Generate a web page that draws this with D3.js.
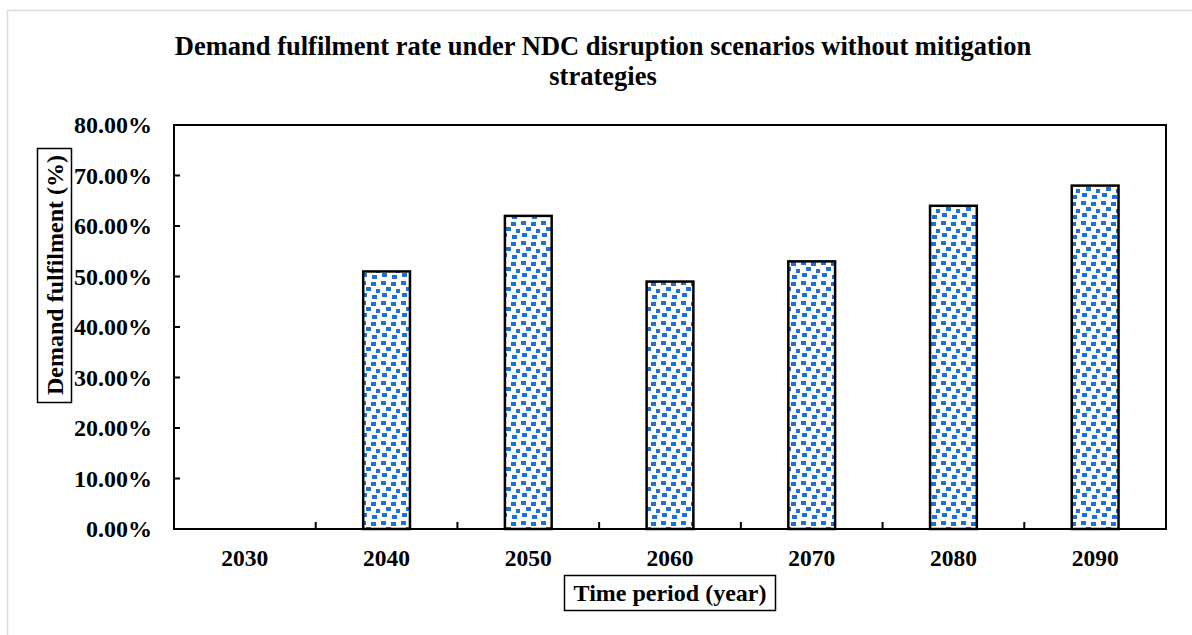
<!DOCTYPE html>
<html><head><meta charset="utf-8">
<script src="https://cdn.jsdelivr.net/npm/d3@7"></script>
<style>body{margin:0;background:#fff}svg{display:block}text{font-family:"Liberation Serif","Times New Roman",serif;font-weight:bold;fill:#000}</style>
</head><body>
<script>
const categories = ["2030","2040","2050","2060","2070","2080","2090"];
const values = [0, 0.51, 0.62, 0.49, 0.53, 0.64, 0.68];
const yTicks = [0,0.1,0.2,0.3,0.4,0.5,0.6,0.7,0.8];
const titleLines = ["Demand fulfilment rate under NDC disruption scenarios without mitigation","strategies"];

const W=1192,H=635;
const svg=d3.select("body").append("svg").attr("width",W).attr("height",H);
svg.append("rect").attr("x",7.5).attr("y",10.5).attr("width",1200).attr("height",700).attr("fill","#fff").attr("stroke","#d9d9d9").attr("stroke-width",1.5);

const defs=svg.append("defs");
const pat=defs.append("pattern").attr("id","dots").attr("patternUnits","userSpaceOnUse").attr("width",20).attr("height",20);
pat.append("rect").attr("width",20).attr("height",20).attr("fill","#fff");
[[1,1],[11,2],[6,7],[16,9],[2,13],[12,15]].forEach(([x,y])=>pat.append("rect").attr("x",x).attr("y",y).attr("width",5).attr("height",4).attr("fill","#1f70d4"));

const x0=174,x1=1166,y0=529,y1=125;
const x=d3.scaleBand().domain(categories).range([x0,x1]).paddingInner(0.67).paddingOuter(0.335);
const y=d3.scaleLinear().domain([0,0.8]).range([y0,y1]);

svg.append("g").selectAll("rect").data(categories.map((c,i)=>({c,v:values[i]})).filter(d=>d.v>0)).join("rect")
 .attr("x",d=>x(d.c)).attr("y",d=>y(d.v)).attr("width",x.bandwidth()).attr("height",d=>y(0)-y(d.v))
 .attr("fill","url(#dots)").attr("stroke","#000").attr("stroke-width",2.5);

const band=(x1-x0)/categories.length;
const yAxis=d3.axisLeft(y).tickValues(yTicks).tickSize(0).tickPadding(22).tickFormat(d=>(d*100).toFixed(2)+"%");
const gy=svg.append("g").attr("transform",`translate(${x0},0)`).call(yAxis);
gy.select(".domain").remove();
gy.selectAll("text").style("font-size","24px").style("font-family","'Liberation Serif',serif").style("font-weight","bold");
svg.append("g").selectAll("line").data(yTicks.slice(1,-1)).join("line")
 .attr("x1",x0).attr("x2",x0+6).attr("y1",d=>y(d)).attr("y2",d=>y(d)).attr("stroke","#000").attr("stroke-width",2);

const xAxis=d3.axisBottom(x).tickSize(0).tickPadding(20);
const gx=svg.append("g").attr("transform",`translate(0,${y0})`).call(xAxis);
gx.select(".domain").remove();
gx.selectAll("text").style("font-size","23.5px").style("font-family","'Liberation Serif',serif").style("font-weight","bold");
svg.append("g").selectAll("line").data(d3.range(1,categories.length)).join("line")
 .attr("x1",i=>x0+i*band).attr("x2",i=>x0+i*band).attr("y1",y0).attr("y2",y0-7).attr("stroke","#000").attr("stroke-width",2);

svg.append("rect").attr("x",x0).attr("y",y1).attr("width",x1-x0).attr("height",y0-y1).attr("fill","none").attr("stroke","#000").attr("stroke-width",2);

titleLines.forEach((t,i)=>svg.append("text").attr("x",603).attr("y",55+i*30).attr("text-anchor","middle").style("font-size","26.5px").text(t));

// x axis title
svg.append("rect").attr("x",564.5).attr("y",575.5).attr("width",211).attr("height",35).attr("fill","#fff").attr("stroke","#000").attr("stroke-width",1.5);
svg.append("text").attr("x",670).attr("y",601).attr("text-anchor","middle").style("font-size","24px").text("Time period (year)");

svg.append("rect").attr("x",37.5).attr("y",148.5).attr("width",34).attr("height",254).attr("fill","#fff").attr("stroke","#000").attr("stroke-width",1.5);
svg.append("text").attr("transform","translate(63,275) rotate(-90)").attr("text-anchor","middle").style("font-size","24px").text("Demand fulfilment (%)");
</script>
</body></html>
